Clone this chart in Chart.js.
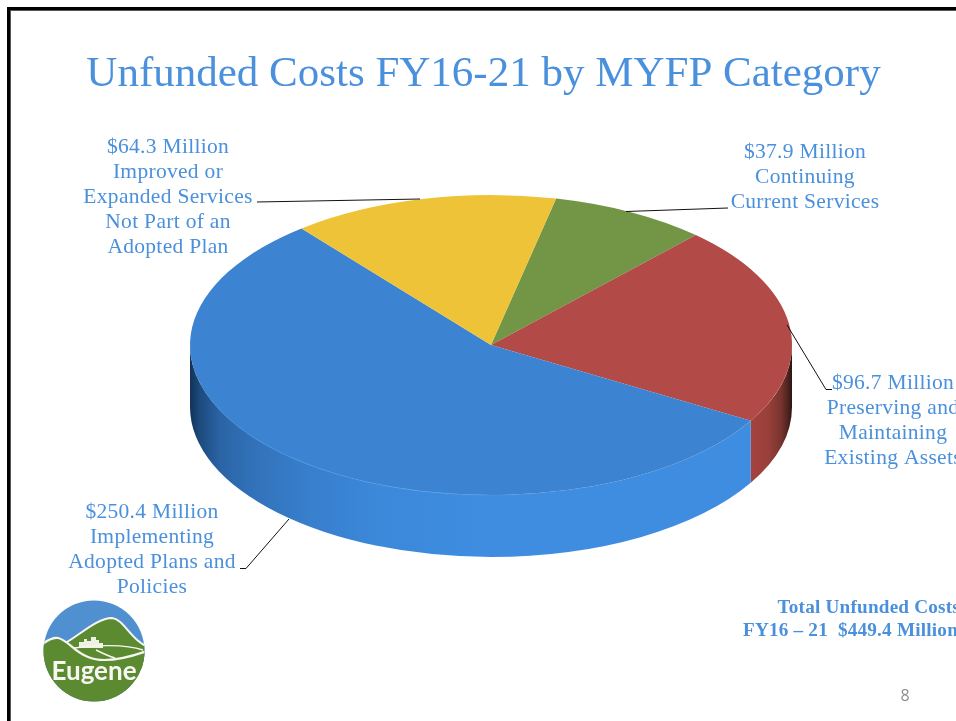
<!DOCTYPE html>
<html>
<head>
<meta charset="utf-8">
<style>html,body{margin:0;padding:0;background:#fff;overflow:hidden}canvas{display:block}</style>
<script src="https://cdn.jsdelivr.net/npm/chart.js@4"></script>
</head>
<body>
<canvas id="c" width="956" height="721"></canvas>
<script>
const categories = ["Continuing Current Services","Preserving and Maintaining Existing Assets","Implementing Adopted Plans and Policies","Improved or Expanded Services Not Part of an Adopted Plan"];
const valuesMillions = [37.9, 96.7, 250.4, 64.3];
const sliceColors = ["#729646","#b24a47","#3c84d1","#efc338"];
const titleText = "Unfunded Costs FY16-21 by MYFP Category";
const labelGreen = ["$37.9 Million","Continuing","Current Services"];
const labelRed = ["$96.7 Million","Preserving and","Maintaining","Existing Assets"];
const labelBlue = ["$250.4 Million","Implementing","Adopted Plans and","Policies"];
const labelYellow = ["$64.3 Million","Improved or","Expanded Services","Not Part of an","Adopted Plan"];
const totalLines = ["Total Unfunded Costs","FY16 – 21  $449.4 Million"];
const pageNumber = "8";

const TEXT = "#4a90dc", SERIF = '"Liberation Serif", serif';
const CX = 491, CY = 345, RX = 301, RY = 150, DEPTH = 62;

function sideGradient(ctx, stops){
  const g = ctx.createLinearGradient(CX-RX,0,CX+RX,0);
  stops.forEach(s=>g.addColorStop((s[0]-(CX-RX))/(2*RX),s[1]));
  return g;
}
function visibleRange(a0,a1){
  const T=Math.PI*2;
  for(const k of [-1,0,1]){
    const lo=Math.max(a0,k*T), hi=Math.min(a1,k*T+Math.PI);
    if(hi>lo) return [lo,hi];
  }
  return null;
}
const pie3d = {
  id:'pie3d',
  beforeDatasetsDraw(chart){
    const ctx=chart.ctx, els=chart.getDatasetMeta(0).data;
    const sides={
      1:[[745,"#a8433f"],[768,"#9a403b"],[781,"#78342e"],[788,"#4d231f"],[792,"#2c1411"]],
      2:[[190,"#12335a"],[200,"#1d4b7c"],[220,"#2a64a5"],[255,"#3272ba"],[310,"#387fcd"],[380,"#3c88da"],[480,"#3e8de0"],[792,"#3e8de0"]]
    };
    els.forEach((el,i)=>{
      const r=visibleRange(el.startAngle,el.endAngle);
      if(!r||!sides[i]) return;
      ctx.beginPath();
      ctx.ellipse(CX,CY,el.outerRadius,RY,0,r[0],r[1]);
      ctx.ellipse(CX,CY+DEPTH,el.outerRadius,RY,0,r[1],r[0],true);
      ctx.closePath();
      ctx.fillStyle=sideGradient(ctx,sides[i]);
      ctx.fill();
      if(i===2){
        ctx.beginPath();
        ctx.ellipse(CX,CY,el.outerRadius,RY,0,r[0],r[1]-0.12);
        ctx.lineWidth=1.2;
        ctx.strokeStyle=sideGradient(ctx,[[210,"rgba(90,160,235,0)"],[260,"rgba(90,160,235,.8)"],[420,"rgba(110,175,240,.9)"],[500,"rgba(90,160,235,.25)"],[745,"rgba(90,160,235,.1)"]]);
        ctx.stroke();
      }
    });
    ctx.save();
    const el=els[0];
    ctx.translate(CX,CY);
    ctx.scale(1,RY/el.outerRadius);
    ctx.translate(-el.x,-el.y);
  },
  afterDatasetsDraw(chart){ chart.ctx.restore(); },
  afterDraw(chart){
    const ctx=chart.ctx;
    // frame
    ctx.fillStyle="#000"; ctx.fillRect(7,7,949,3); ctx.fillRect(7,7,3,714);
    ctx.fillStyle="#555"; ctx.fillRect(10,10,946,1); ctx.fillRect(10,10,1,711);
    // title
    ctx.textBaseline="alphabetic"; ctx.textAlign="center"; ctx.fillStyle=TEXT;
    ctx.font='43px '+SERIF; ctx.letterSpacing="0px";
    ctx.fillText(titleText,483.5,86);
    // labels
    const block=(lines,x,y)=>{lines.forEach((t,i)=>ctx.fillText(t,x,y+i*25));};
    ctx.font='21.5px '+SERIF; ctx.letterSpacing="0.3px";
    block(labelYellow,168,153);
    block(labelGreen,805,158);
    block(labelRed,893,389);
    block(labelBlue,152,518);
    // total
    ctx.font='bold 19.2px '+SERIF; ctx.letterSpacing="0.2px"; ctx.textAlign="right";
    ctx.fillText(totalLines[0],960,613);
    ctx.fillText(totalLines[1],958,636);
    // page number
    ctx.letterSpacing="0px"; ctx.textAlign="center"; ctx.fillStyle="#8c8c8c";
    ctx.font='16px "Open Sans", sans-serif';
    ctx.fillText(pageNumber,905,701);
    // leaders
    ctx.strokeStyle="#111"; ctx.lineWidth=1;
    [[[257,202],[420,199]],[[626,211.5],[728,208]],[[787,325],[826,389.5],[832,389.5]],[[289,519],[246,568.5],[240,568.5]]].forEach(p=>{
      ctx.beginPath(); p.forEach((q,i)=>i?ctx.lineTo(q[0],q[1]):ctx.moveTo(q[0],q[1])); ctx.stroke();
    });
    // logo
    ctx.save();
    ctx.beginPath(); ctx.arc(94,651,50.5,0,Math.PI*2); ctx.clip();
    ctx.fillStyle="#5090d0"; ctx.fillRect(40,598,110,108);
    // back hill
    ctx.fillStyle="#5c8a30"; ctx.strokeStyle="#f6f7f0"; ctx.lineWidth=2;
    ctx.beginPath(); ctx.moveTo(67,642);ctx.bezierCurveTo(82,633,98,618,112,618);ctx.bezierCurveTo(124,619,130,640,150,648);ctx.lineTo(150,670);ctx.lineTo(67,670);ctx.closePath();ctx.fill();ctx.stroke();
    // skyline
    ctx.fillStyle="#eef1e4";
    [[79,642,5,6],[84,639,3,9],[87,641,4,7],[91,637,5,11],[96,640,3,8],[99,643,4,5]].forEach(b=>ctx.fillRect(b[0],b[1],b[2],b[3]));
    // thin valley lines
    ctx.lineWidth=1.4;
    ctx.beginPath(); ctx.moveTo(74,648);ctx.bezierCurveTo(95,645,125,644,143,650);ctx.stroke();
    ctx.beginPath(); ctx.moveTo(96,650);ctx.bezierCurveTo(102,653,108,656,115,658);ctx.stroke();
    // front hill
    ctx.fillStyle="#5c8a30"; ctx.lineWidth=2.2;
    ctx.beginPath(); ctx.moveTo(40,646);ctx.bezierCurveTo(46,641,52,637,58,638);ctx.bezierCurveTo(68,640,74,652,88,657);ctx.bezierCurveTo(104,664,128,658,150,650);ctx.lineTo(150,706);ctx.lineTo(40,706);ctx.closePath();ctx.fill();ctx.stroke();
    ctx.restore();
    ctx.fillStyle="#f6f7f0"; ctx.textAlign="center";
    ctx.font='bold 26px Lato, sans-serif'; ctx.letterSpacing="0px";
    ctx.fillText("Eugene",94,680);
  }
};
new Chart(document.getElementById('c'),{
  type:'pie',
  data:{labels:categories,datasets:[{data:valuesMillions,backgroundColor:sliceColors,borderWidth:0,clip:false}]},
  options:{
    responsive:false,animation:false,devicePixelRatio:1,
    rotation:12.5,radius:RX,
    layout:{padding:0},
    plugins:{legend:{display:false},title:{display:false},tooltip:{enabled:false}}
  },
  plugins:[pie3d]
});
</script>
</body>
</html>
